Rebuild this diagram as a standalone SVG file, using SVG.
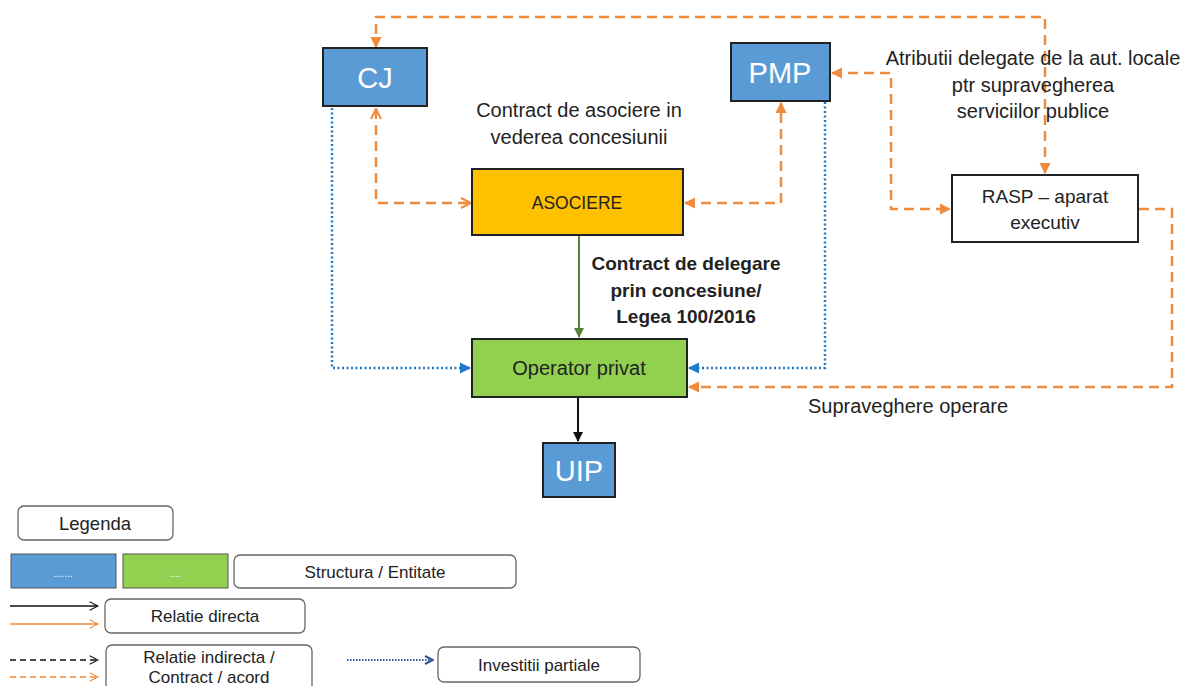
<svg xmlns="http://www.w3.org/2000/svg" width="1187" height="686" viewBox="0 0 1187 686">
<style>
text{font-family:"Liberation Sans",Arial,sans-serif;fill:#222}
.bx{stroke:#222;stroke-width:2}
.blue{fill:#5B9BD5}
.big{font-size:29px;fill:#fff}
.lbl{font-size:20px}
.bold{font-size:19px;font-weight:bold}
.og{fill:none;stroke:#F08A3C;stroke-width:2.5;stroke-dasharray:10 6}
.bd{fill:none;stroke:#1F7ACC;stroke-width:2.5;stroke-dasharray:2 2.5}
.leg{fill:#fff;stroke:#666;stroke-width:1.3}
.lt{font-size:17px}
</style>
<defs>
<marker id="of" viewBox="0 0 10 10" refX="9" refY="5" markerWidth="4.5" markerHeight="4.5" orient="auto-start-reverse" markerUnits="strokeWidth"><path d="M0,0L10,5L0,10z" fill="#F08A3C"/></marker>
<marker id="oo" viewBox="0 0 10 10" refX="9" refY="5" markerWidth="5" markerHeight="5" orient="auto-start-reverse" markerUnits="strokeWidth"><path d="M1,1L9,5L1,9" fill="none" stroke="#F08A3C" stroke-width="1.6"/></marker>
<marker id="bf" viewBox="0 0 10 10" refX="9" refY="5" markerWidth="4.5" markerHeight="4.5" orient="auto" markerUnits="strokeWidth"><path d="M0,0L10,5L0,10z" fill="#1F7ACC"/></marker>
<marker id="gf" viewBox="0 0 10 10" refX="9" refY="5" markerWidth="5" markerHeight="5" orient="auto" markerUnits="strokeWidth"><path d="M0,0L10,5L0,10z" fill="#548235"/></marker>
<marker id="kf" viewBox="0 0 10 10" refX="9" refY="5" markerWidth="5" markerHeight="5" orient="auto" markerUnits="strokeWidth"><path d="M0,0L10,5L0,10z" fill="#111"/></marker>
<marker id="ko" viewBox="0 0 10 10" refX="9" refY="5" markerWidth="8" markerHeight="8" orient="auto" markerUnits="strokeWidth"><path d="M1,1L9,5L1,9" fill="none" stroke="#111" stroke-width="1"/></marker>
<marker id="lo" viewBox="0 0 10 10" refX="9" refY="5" markerWidth="8" markerHeight="8" orient="auto" markerUnits="strokeWidth"><path d="M1,1L9,5L1,9" fill="none" stroke="#F08A3C" stroke-width="1"/></marker>
<marker id="do" viewBox="0 0 10 10" refX="9" refY="5" markerWidth="5" markerHeight="5" orient="auto" markerUnits="strokeWidth"><path d="M1,1L9,5L1,9" fill="none" stroke="#2F5597" stroke-width="2"/></marker>
</defs>
<rect width="1187" height="686" fill="#fff"/>

<g id="connectors">
<path class="og" d="M1045,173V17H376V47" marker-end="url(#of)" marker-start="url(#of)"/>
<path class="og" d="M376,109V203H471" marker-start="url(#oo)" marker-end="url(#oo)"/>
<path class="og" d="M685,203H781V103" marker-start="url(#of)" marker-end="url(#of)"/>
<path class="og" d="M832,73H891V209H950" marker-start="url(#of)" marker-end="url(#of)"/>
<path class="og" d="M1139,209H1172V387H689" marker-end="url(#of)"/>
<path d="M579,236V337" stroke="#548235" stroke-width="2" fill="none" marker-end="url(#gf)"/>
<path d="M578,398V441" stroke="#111" stroke-width="2" fill="none" marker-end="url(#kf)"/>
<path class="bd" d="M332,108V368H470" marker-end="url(#bf)"/>
<path class="bd" d="M825,102V368H689" marker-end="url(#bf)"/>
</g>

<g id="cj"><rect class="bx blue" x="323" y="48" width="104" height="58"/><text class="big" x="375" y="88" text-anchor="middle">CJ</text></g>
<g id="pmp"><rect class="bx blue" x="731" y="43" width="99" height="58"/><text class="big" x="780" y="83" text-anchor="middle">PMP</text></g>
<g id="asociere"><rect class="bx" fill="#FFC000" x="472" y="169" width="211" height="66"/><text x="577" y="209" text-anchor="middle" font-size="17.5">ASOCIERE</text></g>
<g id="operator"><rect class="bx" fill="#92D050" x="472" y="339" width="215" height="58"/><text class="lbl" x="579" y="375" text-anchor="middle">Operator privat</text></g>
<g id="uip"><rect class="bx blue" x="543" y="443" width="72" height="54"/><text class="big" x="579" y="481" text-anchor="middle">UIP</text></g>
<g id="rasp"><rect class="bx" fill="#fff" x="952" y="175" width="186" height="67"/><text x="1045" y="203" text-anchor="middle" font-size="19">RASP – aparat</text><text x="1045" y="229" text-anchor="middle" font-size="19">executiv</text></g>

<g id="labels">
<text class="lbl" x="579" y="117" text-anchor="middle">Contract de asociere in</text>
<text class="lbl" x="579" y="144" text-anchor="middle">vederea concesiunii</text>
<text class="lbl" x="1033" y="65" text-anchor="middle">Atributii delegate de la aut. locale</text>
<text class="lbl" x="1033" y="92" text-anchor="middle">ptr supravegherea</text>
<text class="lbl" x="1033" y="118" text-anchor="middle">serviciilor publice</text>
<text class="bold" x="686" y="270" text-anchor="middle">Contract de delegare</text>
<text class="bold" x="686" y="297" text-anchor="middle">prin concesiune/</text>
<text class="bold" x="686" y="323" text-anchor="middle">Legea 100/2016</text>
<text class="lbl" x="808" y="413">Supraveghere operare</text>
</g>

<g id="legend">
<rect class="leg" x="18" y="506" width="155" height="34" rx="6"/><text x="95" y="530" text-anchor="middle" font-size="18.5">Legenda</text>
<rect x="11" y="554" width="105" height="34" fill="#5B9BD5" stroke="#555" stroke-width="1"/><text x="63" y="577" text-anchor="middle" font-size="10" style="fill:#fff">.......</text>
<rect x="123" y="554" width="105" height="34" fill="#92D050" stroke="#555" stroke-width="1"/><text x="175" y="577" text-anchor="middle" font-size="10" style="fill:#fff">....</text>
<rect class="leg" x="234" y="555" width="282" height="33" rx="6"/><text class="lt" x="375" y="578" text-anchor="middle">Structura / Entitate</text>
<path d="M10,606H98" stroke="#111" stroke-width="1.3" marker-end="url(#ko)"/>
<path d="M10,624H98" stroke="#F08A3C" stroke-width="1.3" marker-end="url(#lo)"/>
<rect class="leg" x="105" y="599" width="200" height="34" rx="6"/><text class="lt" x="205" y="622" text-anchor="middle">Relatie directa</text>
<path d="M10,660H98" stroke="#111" stroke-width="1.3" stroke-dasharray="6 4" marker-end="url(#ko)"/>
<path d="M10,677H98" stroke="#F08A3C" stroke-width="1.3" stroke-dasharray="6 4" marker-end="url(#lo)"/>
<rect class="leg" x="106" y="645" width="206" height="50" rx="6"/><text class="lt" x="209" y="663" text-anchor="middle">Relatie indirecta /</text><text class="lt" x="209" y="683" text-anchor="middle">Contract / acord</text>
<path d="M347,660H433" stroke="#2F5597" stroke-width="2" stroke-dasharray="1.5 1.5" marker-end="url(#do)"/>
<rect class="leg" x="438" y="647" width="202" height="35" rx="6"/><text class="lt" x="539" y="671" text-anchor="middle">Investitii partiale</text>
</g>
</svg>
